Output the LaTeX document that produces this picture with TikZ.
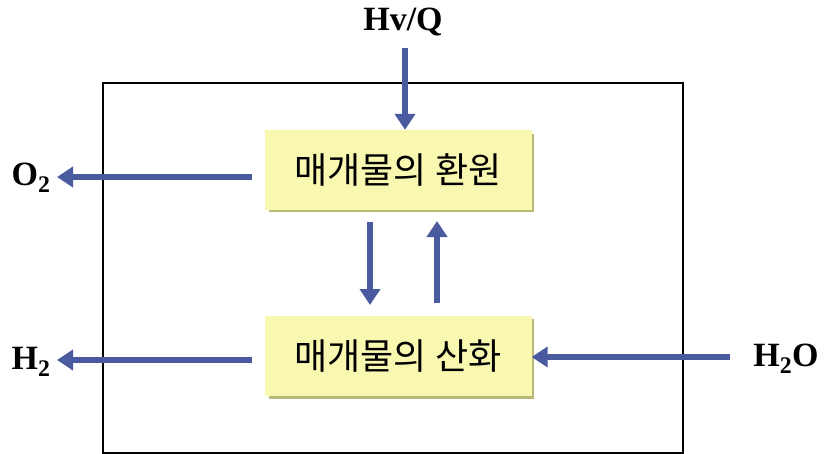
\documentclass[tikz,border=0pt]{standalone}
\usepackage{fontspec}
\setmainfont{Liberation Serif}
\newfontfamily\cjk{Noto Sans CJK KR}
\usetikzlibrary{arrows.meta}
\definecolor{arr}{HTML}{4A5A9E}
\definecolor{boxfill}{HTML}{F8F8B0}
\definecolor{boxshade}{HTML}{B8B878}
\tikzset{
  flow/.style={draw=arr, line width=6pt, -{Triangle[length=16pt,width=20pt]}},
  procbox/.style={minimum width=267pt, minimum height=80pt, fill=boxfill, font=\cjk\fontsize{36}{40}\selectfont, inner sep=0pt},
  lbl/.style={font=\bfseries\fontsize{34}{38}\selectfont, inner sep=0pt}
}
\begin{document}
\begin{tikzpicture}[x=1pt,y=-1pt]
\useasboundingbox (0,0) rectangle (826,454);
\draw[line width=1.2pt] (103,83) rectangle (683,453);
% shadows
\fill[boxshade] (269,134) rectangle (534,212);
\fill[boxshade] (269,319) rectangle (534,399);
\node[procbox] (red) at (398,170) {매개물의 환원};
\node[procbox] (ox) at (398,356) {매개물의 산화};
\node[lbl] (hv) at (403,22) {Hv/Q};
\node[lbl] (o2) at (31,178) {O$_\mathbf{2}$};
\node[lbl] (h2) at (31,362) {H$_\mathbf{2}$};
\node[lbl] (h2o) at (786,359) {H$_\mathbf{2}$O};
\coordinate (hvs) at (405,48);
\coordinate (o2s) at (252,177);
\coordinate (h2s) at (252,360);
\coordinate (h2os) at (730,357);
\draw[flow] (hvs) -- (red.north -| hvs);
\draw[flow] (o2s) -- (57,177);
\draw[flow] (h2s) -- (57,360);
\draw[flow] (h2os) -- (ox.east |- h2os);
\draw[flow] (370,222) -- (370,305);
\draw[flow] (437,303) -- (437,221);
\end{tikzpicture}
\end{document}
